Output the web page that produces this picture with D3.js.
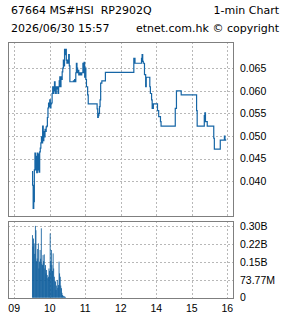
<!DOCTYPE html>
<html>
<head>
<meta charset="utf-8">
<script src="https://cdn.jsdelivr.net/npm/d3@7"></script>
<style>
  html, body { margin: 0; padding: 0; background: #fff; }
  svg { display: block; }
  .hdr { font-family: 'DejaVu Sans', Verdana, sans-serif; font-size: 11px; fill: #000; white-space: pre; }
  .tick { font-family: 'Liberation Sans', Arial, sans-serif; font-size: 10.5px; fill: #000; }
</style>
</head>
<body>
<svg id="chart" width="285" height="318"></svg>
<script>
// 1-min chart data
var priceTimes = [
  '09:30', '09:31', '09:32', '09:33', '09:34', '09:35', '09:36', '09:37', '09:38', '09:39',
  '09:40', '09:41', '09:42', '09:43', '09:44', '09:45', '09:46', '09:47', '09:48', '09:49',
  '09:50', '09:51', '09:52', '09:53', '09:54', '09:55', '09:56', '09:57', '09:58', '09:59',
  '10:00', '10:01', '10:02', '10:03', '10:04', '10:05', '10:06', '10:07', '10:08', '10:09',
  '10:10', '10:11', '10:12', '10:13', '10:14', '10:15', '10:16', '10:17', '10:18', '10:19',
  '10:20', '10:21', '10:22', '10:23', '10:24', '10:25', '10:26', '10:27', '10:28', '10:29',
  '10:30', '10:31', '10:32', '10:33', '10:34', '10:40', '10:41', '10:42', '10:43', '10:44',
  '10:45', '10:46', '10:47', '10:48', '10:49', '10:50', '10:52', '10:54', '10:56', '10:57',
  '10:58', '10:59', '11:00', '11:01', '11:02', '11:04', '11:05', '11:20', '11:21', '11:22',
  '11:23', '11:24', '11:25', '11:26', '11:28', '11:34', '13:22', '13:24', '13:35', '13:36',
  '13:37', '13:38', '13:40', '13:42', '13:43', '13:49', '13:50', '13:52', '13:53', '13:55',
  '14:02', '14:04', '14:07', '14:08', '14:32', '14:34', '14:42', '15:08', '15:09', '15:21',
  '15:22', '15:23', '15:26', '15:37', '15:38', '15:48', '15:55', '15:56', '15:57'
]
var prices = [
  0.0421, 0.0391, 0.0340, 0.0355, 0.0425, 0.0462, 0.0425, 0.0455, 0.0419, 0.0462,
  0.0425, 0.0460, 0.0420, 0.0465, 0.0473, 0.0485, 0.0498, 0.0485, 0.0522, 0.0490,
  0.0510, 0.0498, 0.0515, 0.0510, 0.0520, 0.0522, 0.0541, 0.0562, 0.0573, 0.0565,
  0.0580, 0.0562, 0.0571, 0.0573, 0.0594, 0.0609, 0.0594, 0.0609, 0.0620, 0.0600,
  0.0594, 0.0609, 0.0604, 0.0609, 0.0594, 0.0609, 0.0622, 0.0631, 0.0609, 0.0631,
  0.0625, 0.0642, 0.0650, 0.0668, 0.0655, 0.0692, 0.0680, 0.0692, 0.0668, 0.0661,
  0.0668, 0.0661, 0.0680, 0.0655, 0.0620, 0.0622, 0.0620, 0.0625, 0.0620, 0.0640,
  0.0661, 0.0650, 0.0640, 0.0645, 0.0635, 0.0640, 0.0635, 0.0640, 0.0661, 0.0640,
  0.0663, 0.0630, 0.0650, 0.0625, 0.0609, 0.0591, 0.0571, 0.0560, 0.0541, 0.0545,
  0.0550, 0.0565, 0.0580, 0.0617, 0.0622, 0.0641, 0.0672, 0.0661, 0.0672, 0.0680,
  0.0665, 0.0661, 0.0636, 0.0609, 0.0630, 0.0609, 0.0594, 0.0580, 0.0561, 0.0571,
  0.0556, 0.0543, 0.0532, 0.0522, 0.0561, 0.0600, 0.0591, 0.0556, 0.0522, 0.0545,
  0.0551, 0.0532, 0.0522, 0.0495, 0.0471, 0.0491, 0.0500, 0.0491, 0.0493
]

// turnover per minute from 09:30, in millions
var volStart = '09:30'
var volumes = [
  257, 210, 243, 223, 180, 295, 277, 150, 161, 200,
  223, 120, 148, 196, 160, 285, 140, 134, 175, 150,
  178, 120, 134, 100, 114, 93, 80, 86, 120, 110,
  264, 150, 196, 134, 110, 182, 120, 86, 70, 66,
  32, 50, 73, 40, 52, 148, 100, 86, 50, 39,
  20, 11, 8, 6, 5, 4, 2
]

var timeTicks = ['09:00', '10:00', '11:00', '12:00', '14:00', '15:00', '16:00']
var timeLabels = ['09', '10', '11', '12', '14', '15', '16']
var priceTicks = [0.040, 0.045, 0.050, 0.055, 0.060, 0.065]
var volTicks = [0, 73.77, 147.54, 221.31, 295.08]
var volLabels = ['0', '73.77M', '0.15B', '0.22B', '0.30B']

var conf = {
  left: 8,
  right: 233,
  priceTop: 42,
  priceBottom: 216,
  volTop: 221,
  volBottom: 298,
  labelX: 240,
  lineColor: '#1666a6',
  barColor: '#0c5c9c',
  gridColor: '#b8b8b8',
  frameColor: '#7f7f7f'
}

// minutes after 09:00 with the lunch hour taken out
function toMin (t) {
  var p = t.split(':')
  var m = (+p[0]) * 60 + (+p[1]) - 540
  if (m >= 240) m -= 60
  return m
}

var svg = d3.select('#chart')

var x = d3.scaleLinear()
  .domain([-10.5, 369.5])
  .range([conf.left, conf.right])

var y = d3.scaleLinear()
  .domain([0.0323, 0.0708])
  .range([conf.priceBottom, conf.priceTop])

var yv = d3.scaleLinear()
  .domain([0, 315])
  .range([conf.volBottom - 0.3, conf.volTop])

// Header
svg.append('text').attr('class', 'hdr').attr('x', 11).attr('y', 14).text('67664 MS#HSI  RP2902Q')
svg.append('text').attr('class', 'hdr').attr('x', 279).attr('y', 14).attr('text-anchor', 'end').text('1-min Chart')
svg.append('text').attr('class', 'hdr').attr('x', 11).attr('y', 32).text('2026/06/30 15:57')
svg.append('text').attr('class', 'hdr').attr('x', 279).attr('y', 32).attr('text-anchor', 'end').text('etnet.com.hk \u00a9 copyright')

function drawGrid (g, top, bottom, yTicks, yScale) {
  g.selectAll('line.vgrid')
    .data(timeTicks)
    .enter()
      .append('line')
      .attr('class', 'vgrid')
      .attr('x1', function (d) { return Math.round(x(toMin(d))) + 0.5 })
      .attr('x2', function (d) { return Math.round(x(toMin(d))) + 0.5 })
      .attr('y1', top)
      .attr('y2', bottom)
      .attr('stroke', conf.gridColor)
      .attr('stroke-dasharray', '2,2')

  g.selectAll('line.hgrid')
    .data(yTicks)
    .enter()
      .append('line')
      .attr('class', 'hgrid')
      .attr('x1', conf.left)
      .attr('x2', conf.right)
      .attr('y1', function (d) { return Math.round(yScale(d)) + 0.5 })
      .attr('y2', function (d) { return Math.round(yScale(d)) + 0.5 })
      .attr('stroke', conf.gridColor)
      .attr('stroke-dasharray', '2,2')
}

// Price panel
var pricePanel = svg.append('g')
drawGrid(pricePanel, conf.priceTop, conf.priceBottom, priceTicks, y)

var line = d3.line()
  .x(function (d) { return x(toMin(d.t)) })
  .y(function (d) { return y(d.p) })
  .curve(d3.curveStepAfter)

var priceData = priceTimes.map(function (t, i) { return { t: t, p: prices[i] } })

pricePanel.append('path')
  .datum(priceData)
  .attr('d', line)
  .attr('fill', 'none')
  .attr('stroke', conf.lineColor)
  .attr('stroke-width', 1.2)

pricePanel.append('rect')
  .attr('x', conf.left + 0.5)
  .attr('y', conf.priceTop + 0.5)
  .attr('width', conf.right - conf.left)
  .attr('height', conf.priceBottom - conf.priceTop)
  .attr('fill', 'none')
  .attr('stroke', conf.frameColor)

pricePanel.selectAll('text.tick')
  .data(priceTicks)
  .enter()
    .append('text')
    .attr('class', 'tick')
    .attr('x', conf.labelX)
    .attr('y', function (d) { return y(d) })
    .attr('dy', '0.36em')
    .text(function (d) { return d.toFixed(3) })

// Volume panel
var volPanel = svg.append('g')
drawGrid(volPanel, conf.volTop, conf.volBottom, volTicks.slice(1), yv)

var barStart = toMin(volStart)
var barWidth = (x(1) - x(0)) * 1.4

volPanel.selectAll('rect.bar')
  .data(volumes)
  .enter()
    .append('rect')
    .attr('class', 'bar')
    .attr('x', function (d, i) { return x(barStart + i) })
    .attr('y', function (d) { return yv(d) })
    .attr('width', barWidth)
    .attr('height', function (d) { return yv(0) - yv(d) })
    .attr('fill', conf.barColor)

volPanel.append('rect')
  .attr('x', conf.left + 0.5)
  .attr('y', conf.volTop + 0.5)
  .attr('width', conf.right - conf.left)
  .attr('height', conf.volBottom - conf.volTop)
  .attr('fill', 'none')
  .attr('stroke', conf.frameColor)

volPanel.selectAll('text.tick')
  .data(volTicks)
  .enter()
    .append('text')
    .attr('class', 'tick')
    .attr('x', conf.labelX)
    .attr('y', function (d) { return yv(d) })
    .attr('dy', '0.36em')
    .text(function (d, i) { return volLabels[i] })

// Time axis labels
svg.selectAll('text.time')
  .data(timeTicks)
  .enter()
    .append('text')
    .attr('class', 'tick time')
    .attr('x', function (d) { return x(toMin(d)) })
    .attr('y', 312)
    .attr('text-anchor', 'middle')
    .text(function (d, i) { return timeLabels[i] })
</script>
</body>
</html>
